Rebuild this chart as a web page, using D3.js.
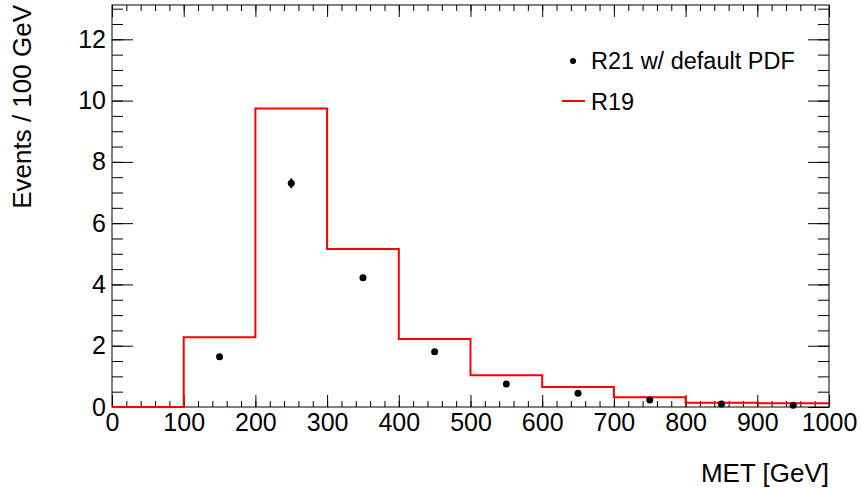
<!DOCTYPE html>
<html>
<head>
<meta charset="utf-8">
<script src="https://cdn.jsdelivr.net/npm/d3@7"></script>
<style>
  html, body { margin: 0; padding: 0; background: #fff; }
  svg { display: block; font-family: "Liberation Sans", Arial, sans-serif; }
</style>
</head>
<body>
<div id="chart"></div>
<script>
// bin edges of the MET histogram (GeV)
const binEdges = [0, 100, 200, 300, 400, 500, 600, 700, 800, 900, 1000];
// R19 histogram contents per bin
const r19Values = [0, 2.28, 9.74, 5.16, 2.22, 1.04, 0.65, 0.32, 0.14, 0.12];
// R21 w/ default PDF points (bin centres), null = not drawn
const r21Values = [null, 1.64, 7.30, 4.22, 1.80, 0.75, 0.45, 0.23, 0.10, 0.06];
const r21Errors = [0, 0.06, 0.16, 0.09, 0.05, 0.03, 0.02, 0.02, 0.01, 0.01];
const xTicks = [0, 100, 200, 300, 400, 500, 600, 700, 800, 900, 1000];
const yTicks = [0, 2, 4, 6, 8, 10, 12];
const legendLabels = ["R21 w/ default PDF", "R19"];

const width = 861, height = 488;
const margin = { left: 112, top: 5, right: 861 - 829, bottom: 488 - 407 };

const svg = d3.select("#chart").append("svg")
    .attr("width", width)
    .attr("height", height);

const x = d3.scaleLinear().domain([0, 1000]).range([margin.left, width - margin.right]);
const y = d3.scaleLinear().domain([0, 13.12]).range([height - margin.bottom, margin.top]);

const tickFont = "25px";

// 小刻度
const xMinor = d3.range(0, 1001, 20);
const yMinor = d3.range(0, 13.01, 0.5);

function styleAxis(g) {
    g.select(".domain").remove();
    g.selectAll("line").attr("stroke", "#000").attr("stroke-width", 1);
}

// bottom axis
svg.append("g")
    .attr("transform", `translate(0,${y(0)})`)
    .call(d3.axisBottom(x).tickValues(xMinor).tickSize(-6).tickFormat(""))
    .call(styleAxis);
svg.append("g")
    .attr("transform", `translate(0,${y(0)})`)
    .call(d3.axisBottom(x).tickValues(xTicks).tickSize(-12).tickPadding(6).tickFormat(d3.format("d")))
    .call(styleAxis)
    .call(g => g.selectAll("text").attr("font-size", tickFont).attr("fill", "#000").attr("font-family", null));

// top axis (ticks only)
svg.append("g")
    .attr("transform", `translate(0,${y.range()[1]})`)
    .call(d3.axisTop(x).tickValues(xMinor).tickSize(-6).tickFormat(""))
    .call(styleAxis);
svg.append("g")
    .attr("transform", `translate(0,${y.range()[1]})`)
    .call(d3.axisTop(x).tickValues(xTicks).tickSize(-12).tickFormat(""))
    .call(styleAxis);

// left axis
svg.append("g")
    .attr("transform", `translate(${x(0)},0)`)
    .call(d3.axisLeft(y).tickValues(yMinor).tickSize(-11).tickFormat(""))
    .call(styleAxis);
svg.append("g")
    .attr("transform", `translate(${x(0)},0)`)
    .call(d3.axisLeft(y).tickValues(yTicks).tickSize(-21).tickPadding(6).tickFormat(d3.format("d")))
    .call(styleAxis)
    .call(g => g.selectAll("text").attr("font-size", tickFont).attr("fill", "#000").attr("font-family", null));

// right axis (ticks only)
svg.append("g")
    .attr("transform", `translate(${x(1000)},0)`)
    .call(d3.axisRight(y).tickValues(yMinor).tickSize(-11).tickFormat(""))
    .call(styleAxis);
svg.append("g")
    .attr("transform", `translate(${x(1000)},0)`)
    .call(d3.axisRight(y).tickValues(yTicks).tickSize(-21).tickFormat(""))
    .call(styleAxis);

// frame
svg.append("rect")
    .attr("x", x(0)).attr("y", y.range()[1])
    .attr("width", x(1000) - x(0))
    .attr("height", y(0) - y.range()[1])
    .attr("fill", "none").attr("stroke", "#000").attr("stroke-width", 1);

// R19 histogram as steps
const stepPts = [];
r19Values.forEach((v, i) => {
    stepPts.push([binEdges[i], v]);
    stepPts.push([binEdges[i + 1], v]);
});
svg.append("path")
    .datum(stepPts)
    .attr("fill", "none")
    .attr("stroke", "#ff0000")
    .attr("stroke-width", 2)
    .attr("d", d3.line().x(d => x(d[0])).y(d => y(d[1])));

// R21 points with error bars
const pts = r21Values.map((v, i) => ({ c: (binEdges[i] + binEdges[i + 1]) / 2, v: v, e: r21Errors[i] }))
    .filter(d => d.v !== null);

svg.selectAll(".err").data(pts).enter().append("line")
    .attr("x1", d => x(d.c)).attr("x2", d => x(d.c))
    .attr("y1", d => y(d.v - d.e)).attr("y2", d => y(d.v + d.e))
    .attr("stroke", "#000").attr("stroke-width", 2);

svg.selectAll(".pt").data(pts).enter().append("circle")
    .attr("cx", d => x(d.c)).attr("cy", d => y(d.v))
    .attr("r", 3.5).attr("fill", "#000");

// axis titles
svg.append("text")
    .attr("x", x(1000)).attr("y", 482)
    .attr("text-anchor", "end")
    .attr("font-size", "26px")
    .text("MET [GeV]");

svg.append("text")
    .attr("transform", `translate(31,${y.range()[1]}) rotate(-90)`)
    .attr("text-anchor", "end")
    .attr("font-size", "26px")
    .text("Events / 100 GeV");

// legend
const legend = svg.append("g");
legend.append("circle").attr("cx", 573).attr("cy", 61).attr("r", 3).attr("fill", "#000");
legend.append("text").attr("x", 591).attr("y", 69).attr("font-size", "23.5px").text(legendLabels[0]);
legend.append("line").attr("x1", 562).attr("x2", 585).attr("y1", 101).attr("y2", 101)
    .attr("stroke", "#ff0000").attr("stroke-width", 2);
legend.append("text").attr("x", 591).attr("y", 110).attr("font-size", "23.5px").text(legendLabels[1]);
</script>
</body>
</html>
